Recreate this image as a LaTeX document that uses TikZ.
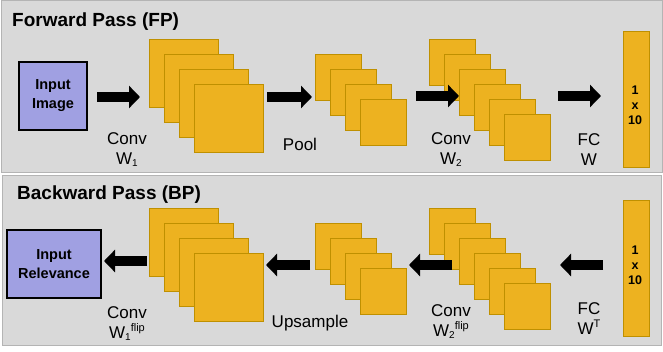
\documentclass[tikz,border=0pt]{standalone}
\usepackage{fontspec}
\setmainfont{Liberation Sans}
\usetikzlibrary{arrows.meta}
\definecolor{panelbg}{HTML}{D9D9D9}
\definecolor{panelbd}{HTML}{B4B4B4}
\definecolor{sqfill}{HTML}{EDB220}
\definecolor{sqbd}{HTML}{BF9000}
\definecolor{lav}{HTML}{A0A0E2}
\newcommand{\mysub}[1]{\raisebox{-0.12em}{\fontsize{10}{10}\selectfont #1}}
\newcommand{\mysup}[1]{\raisebox{0.45em}{\fontsize{11}{11}\selectfont #1}}
\begin{document}
\begin{tikzpicture}[x=1pt,y=-1pt,
  panel/.style={fill=panelbg,draw=panelbd,line width=1pt},
  title/.style={font=\bfseries\fontsize{19}{22}\selectfont,anchor=base west,inner sep=0},
  inbox/.style={draw=black,fill=lav,line width=1.4pt,inner sep=0,align=center,
    font=\bfseries\fontsize{14.5}{19}\selectfont},
  bigsq/.style={draw=sqbd,fill=sqfill,line width=1pt,minimum width=69pt,minimum height=68pt,inner sep=0,anchor=north west},
  smsq/.style={draw=sqbd,fill=sqfill,line width=1pt,minimum width=46pt,minimum height=46pt,inner sep=0,anchor=north west},
  bar/.style={draw=sqbd,fill=sqfill,line width=1pt,minimum width=26pt,minimum height=136pt,inner sep=0,anchor=north west},
  bartext/.style={font=\bfseries\fontsize{12.5}{15}\selectfont,align=center,inner sep=0},
  lab/.style={font=\fontsize{17}{20}\selectfont,align=center,inner sep=0},
  fat/.style={line width=10pt,-{Triangle[length=11pt,width=22pt]},black}]
\useasboundingbox (0,0) rectangle (663,352);
\fill[white] (0,0) rectangle (663,352);
% panels
\draw[panel] (1,1) rectangle (662,173);
\draw[panel] (2,175.5) rectangle (661,345);
\node[title] (fpt) at (12,26.7) {Forward Pass (FP)};
\node[title] (bpt) at (17,199.3) {Backward Pass (BP)};
% ---------- forward ----------
\node[inbox,minimum width=68pt,minimum height=68pt] (img) at (53,96) {Input\\Image};
\foreach \i in {0,...,3} \node[bigsq] (f1-\i) at ({149+15*\i},{39+15*\i}) {};
\foreach \i in {0,...,3} \node[smsq] (f2-\i) at ({315+15*\i},{54+15*\i}) {};
\foreach \i in {0,...,5} \node[smsq] (f3-\i) at ({429+15*\i},{39+15*\i}) {};
\node[bar] (fc1) at (623,31) {};
\node[bartext] (fc1t) at (635,105) {1\\x\\10};
\coordinate (a1s) at (97,97);  \coordinate (a1e) at (140,97);
\coordinate (a2s) at (267,97); \coordinate (a2e) at (312,97);
\coordinate (a3s) at (416,96); \coordinate (a3e) at (459,96);
\coordinate (a4s) at (558,96); \coordinate (a4e) at (601,96);
\draw[fat] (a1s) -- (a1e);
\draw[fat] (a2s) -- (a2e);
\draw[fat] (a3s) -- (a3e);
\draw[fat] (a4s) -- (a4e);
\node[lab] (l1) at (127,150) {Conv\\W\mysub{1}};
\node[lab] (l2) at (300,144) {Pool};
\node[lab] (l3) at (451,150) {Conv\\W\mysub{2}};
\node[lab] (l4) at (589,150) {FC\\W};
% ---------- backward ----------
\node[inbox,minimum width=94pt,minimum height=68pt] (rel) at (54,264) {Input\\Relevance};
\foreach \i in {0,...,3} \node[bigsq] (b1-\i) at ({149+15*\i},{208+15*\i}) {};
\foreach \i in {0,...,3} \node[smsq] (b2-\i) at ({315+15*\i},{223+15*\i}) {};
\foreach \i in {0,...,5} \node[smsq] (b3-\i) at ({429+15*\i},{208+15*\i}) {};
\node[bar] (fc2) at (623,200) {};
\node[bartext] (fc2t) at (635,265) {1\\x\\10};
\coordinate (b1s) at (147,261); \coordinate (b1e) at (104,261);
\coordinate (b2s) at (310,265); \coordinate (b2e) at (266,265);
\coordinate (b3s) at (452,265); \coordinate (b3e) at (409,265);
\coordinate (b4s) at (603,265); \coordinate (b4e) at (560,265);
\draw[fat] (b1s) -- (b1e);
\draw[fat] (b2s) -- (b2e);
\draw[fat] (b3s) -- (b3e);
\draw[fat] (b4s) -- (b4e);
\node[lab] (m1) at (127,324) {Conv\\W\mysub{1}\mysup{flip}};
\node[lab,anchor=base] (m2) at (310,327) {Upsample};
\node[lab] (m3) at (451,322) {Conv\\W\mysub{2}\mysup{flip}};
\node[lab] (m4) at (589,319) {FC\\W\mysup{T}};
\end{tikzpicture}
\end{document}
